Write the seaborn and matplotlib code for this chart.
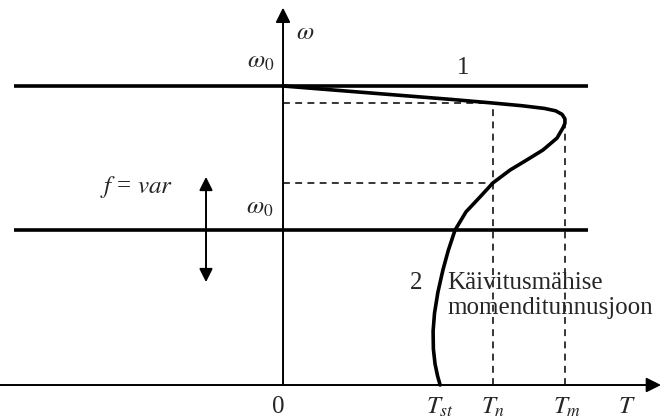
import matplotlib
matplotlib.use("Agg")
import matplotlib.pyplot as plt
import seaborn as sns
import pandas as pd

# Torque-speed characteristic of the starting winding (per-unit T, per-unit omega)
torque = [0.0, 0.20, 0.40, 0.60, 0.747, 0.85, 0.93, 0.970, 0.993, 1.003, 1.003,
          0.996, 0.975, 0.925, 0.868, 0.808, 0.747, 0.701, 0.651, 0.612, 0.588,
          0.569, 0.551, 0.539, 0.534, 0.535, 0.541, 0.550, 0.559]
speed = [1.0, 0.985, 0.970, 0.955, 0.943, 0.934, 0.925, 0.917, 0.905, 0.890, 0.875,
         0.860, 0.826, 0.786, 0.753, 0.719, 0.676, 0.629, 0.579, 0.518, 0.450,
         0.385, 0.310, 0.240, 0.180, 0.120, 0.070, 0.030, 0.0]

# Synchronous speeds for the two supply frequencies
omega0_levels = [1.0, 0.518]

# Characteristic torque points
T_st = 0.559
T_n = 0.747
T_m = 1.003
omega_n = [0.943, 0.676]
omega_m = 0.875

tick_labels = ["0", r"$T_{st}$", r"$T_n$", r"$T_m$", r"$T$"]
tick_pos = [-0.018, T_st, T_n, 1.01, 1.224]

sns.set_style("white")
plt.rcParams["font.family"] = ["Liberation Serif", "DejaVu Serif"]
plt.rcParams["mathtext.fontset"] = "stix"

fig = plt.figure(figsize=(6.63, 4.19), dpi=100)
ax = fig.add_axes([0, 0, 1, 1])
ax.set_xlim(-1.007, 1.352)
ax.set_ylim(-0.1137, 1.2876)
ax.axis("off")

# Coordinate axes with arrowheads
arrow_kw = dict(arrowstyle="-|>", color="black", lw=1.4, mutation_scale=22,
                shrinkA=0, shrinkB=0)
ax.annotate("", xy=(1.345, 0), xytext=(-1.007, 0), arrowprops=arrow_kw)
ax.annotate("", xy=(0, 1.262), xytext=(0, 0), arrowprops=arrow_kw)

# Synchronous-speed lines
for w0 in omega0_levels:
    ax.plot([-0.957, 1.085], [w0, w0], color="black", lw=2.6, solid_capstyle="butt")

# Dashed construction lines
dash = dict(color="black", lw=1.1, ls=(0, (4.5, 3.5)))
for wn in omega_n:
    ax.plot([0, T_n], [wn, wn], **dash)
ax.plot([T_n, T_n], [0, omega_n[0]], **dash)
ax.plot([T_m, T_m], [0, omega_m], **dash)

# The torque characteristic
df = pd.DataFrame({"T": torque, "omega": speed})
sns.lineplot(data=df, x="T", y="omega", sort=False, estimator=None,
             color="black", lw=2.6, ax=ax)

# Frequency variation double arrow
dbl = dict(arrowstyle="<|-|>", color="black", lw=1.4, mutation_scale=20,
           shrinkA=0, shrinkB=0)
ax.annotate("", xy=(-0.274, 0.696), xytext=(-0.274, 0.344), arrowprops=dbl)

fs = 18
ax.text(0.078, 1.177, r"$\omega$", fontsize=fs, ha="center", va="center")
ax.text(-0.078, 1.080, r"$\omega_0$", fontsize=fs, ha="center", va="center")
ax.text(-0.082, 0.592, r"$\omega_0$", fontsize=fs, ha="center", va="center")
ax.text(0.641, 1.060, "1", fontsize=fs, ha="center", va="center")
ax.text(-0.520, 0.662, r"$f$ = $var$", fontsize=fs, ha="center", va="center")
ax.text(0.473, 0.341, "2", fontsize=fs, ha="center", va="center")
ax.text(0.584, 0.341, "Käivitusmähise", fontsize=fs, ha="left", va="center")
ax.text(0.584, 0.258, "momenditunnusjoon", fontsize=fs, ha="left", va="center")

for pos, lab in zip(tick_pos, tick_labels):
    ax.text(pos, -0.074, lab, fontsize=fs, ha="center", va="center")

fig.savefig("out.png", dpi=100)
